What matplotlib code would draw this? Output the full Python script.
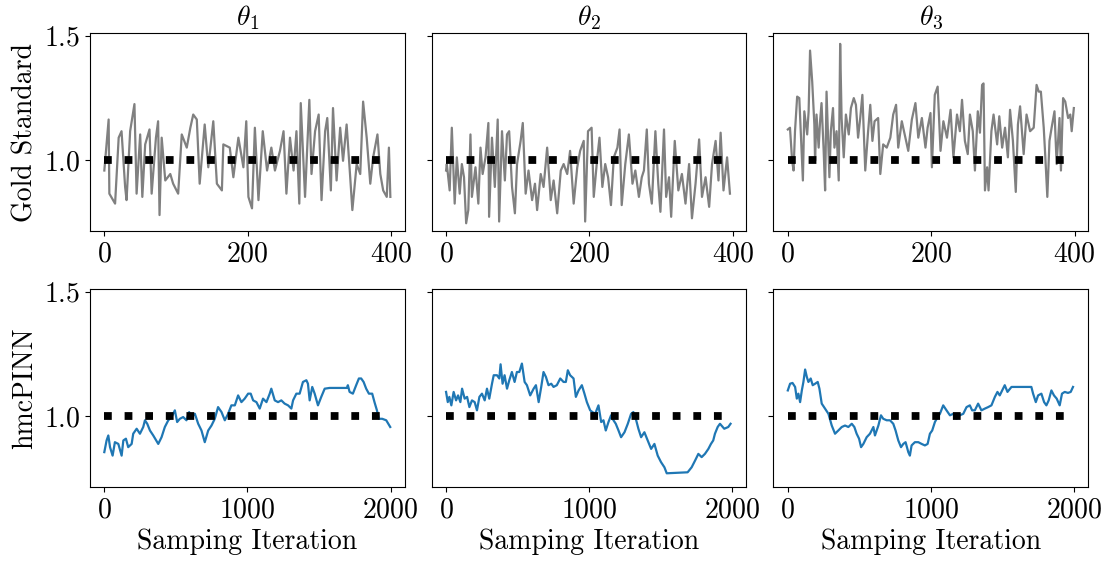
import matplotlib
matplotlib.use("Agg")
import matplotlib.pyplot as plt
from matplotlib.ticker import MultipleLocator

plt.rcParams.update({
    'font.family': 'serif',
    'font.serif': ['cmr10'],
    'mathtext.fontset': 'cm',
    'axes.unicode_minus': False,
    'axes.formatter.use_mathtext': True,
    'font.size': 20,
})

TRUE_VALUE = 1.0
N_GOLD = 400
N_HMC = 2000
param_titles = [r'$\theta_1$', r'$\theta_2$', r'$\theta_3$']
row_labels = ['Gold Standard', 'hmcPINN']
xlabel = 'Samping Iteration'

# gold standard traces (iteration, value)
gold1_it = [0, 6, 7, 15, 20, 24, 29, 31, 36, 42, 45, 50, 53, 57, 63, 66, 72, 75, 77, 80,
            85, 92, 96, 103, 108, 115, 120, 124, 129, 133, 140, 145, 152, 157, 164, 166,
            175, 180, 187, 194, 198, 201, 206, 210, 215, 221, 227, 233, 238, 245, 250,
            254, 259, 264, 268, 272, 274, 280, 286, 289, 294, 299, 303, 308, 311, 316,
            319, 324, 329, 333, 338, 343, 346, 352, 357, 361, 366, 371, 375, 381, 385,
            389, 394, 397, 399]
gold1_val = [0.958, 1.163, 0.865, 0.825, 1.090, 1.116, 0.892, 0.839, 1.116, 1.225, 0.865,
             1.103, 0.852, 1.063, 1.123, 0.865, 1.090, 1.156, 0.779, 1.090, 0.918, 0.944,
             0.905, 0.865, 1.103, 1.050, 1.130, 1.183, 1.163, 0.905, 1.143, 0.971, 1.156,
             0.905, 0.878, 1.063, 1.050, 0.931, 1.090, 0.971, 1.156, 0.852, 0.806, 1.130,
             0.839, 1.116, 0.958, 1.050, 0.958, 1.037, 1.116, 0.865, 1.090, 0.958, 1.116,
             0.825, 1.229, 0.852, 1.242, 0.944, 1.116, 1.183, 0.839, 1.116, 1.169, 0.878,
             1.209, 0.918, 1.130, 0.997, 1.143, 0.931, 0.799, 0.984, 0.944, 1.235, 1.090,
             0.905, 1.011, 1.103, 0.944, 0.878, 0.852, 1.050, 0.852]

gold2_it = [0, 1, 5, 8, 12, 15, 19, 22, 25, 28, 31, 34, 36, 41, 45, 48, 51, 55, 59, 60,
            64, 68, 72, 74, 78, 82, 85, 88, 92, 96, 99, 104, 107, 111, 115, 120, 124, 127,
            132, 136, 141, 146, 150, 155, 160, 164, 169, 173, 178, 183, 187, 192, 194,
            198, 203, 206, 211, 214, 218, 222, 226, 230, 234, 239, 242, 245, 250, 255,
            260, 264, 269, 273, 276, 280, 283, 287, 292, 296, 299, 304, 307, 311, 314,
            319, 324, 329, 334, 339, 343, 348, 353, 357, 362, 367, 371, 376, 380, 383,
            387, 392, 396]
gold2_val = [0.958, 0.984, 0.878, 1.130, 0.825, 1.011, 0.865, 0.984, 0.931, 0.746, 0.799,
             1.103, 0.852, 0.971, 0.825, 1.050, 0.944, 1.011, 1.149, 0.772, 1.090, 0.892,
             1.163, 0.753, 1.116, 0.918, 1.103, 1.116, 0.892, 0.786, 0.984, 1.077, 1.149,
             0.865, 0.958, 0.839, 0.905, 0.799, 0.944, 0.892, 1.050, 0.839, 0.918, 0.786,
             0.958, 0.984, 0.944, 1.037, 0.825, 0.971, 1.037, 1.077, 0.753, 1.116, 1.130,
             0.852, 1.011, 1.090, 0.892, 0.984, 0.931, 0.819, 1.011, 1.050, 1.123, 0.819,
             0.984, 1.103, 0.905, 0.958, 0.852, 0.931, 0.958, 1.123, 0.905, 0.825, 1.116,
             0.905, 0.792, 1.123, 0.852, 0.931, 0.772, 1.077, 0.878, 0.944, 0.825, 0.984,
             0.766, 0.905, 1.083, 0.852, 0.931, 0.812, 0.984, 1.077, 0.918, 1.110, 0.878,
             1.011, 0.865]

gold3_it = [0, 3, 6, 8, 10, 13, 16, 18, 21, 23, 27, 29, 31, 34, 37, 38, 40, 43, 45, 47,
            50, 52, 54, 58, 60, 63, 65, 68, 71, 73, 75, 78, 81, 85, 88, 92, 95, 98, 101,
            104, 108, 112, 115, 118, 121, 126, 129, 133, 138, 143, 147, 151, 154, 159,
            164, 168, 173, 178, 182, 187, 192, 195, 199, 201, 205, 209, 213, 217, 222,
            227, 231, 236, 240, 243, 247, 251, 254, 258, 261, 265, 268, 271, 273, 275,
            278, 280, 284, 287, 292, 295, 299, 303, 307, 310, 314, 318, 321, 324, 329,
            333, 338, 343, 347, 350, 353, 357, 359, 362, 365, 368, 372, 375, 379, 381,
            384, 387, 391, 394, 396, 399]
gold3_val = [1.123, 1.130, 0.997, 0.958, 1.116, 1.255, 1.249, 1.116, 0.918, 1.196, 1.103,
             1.196, 1.440, 1.315, 1.143, 0.997, 1.183, 1.050, 1.156, 1.229, 1.037, 0.878,
             1.275, 0.931, 1.116, 1.209, 1.050, 1.116, 0.918, 1.467, 1.169, 1.011, 1.183,
             1.103, 1.209, 1.249, 1.222, 1.090, 1.169, 1.262, 0.958, 1.116, 1.222, 1.077,
             1.156, 1.169, 0.944, 1.063, 1.050, 1.090, 1.183, 1.222, 1.050, 1.156, 1.090,
             1.037, 1.163, 1.229, 1.090, 1.169, 1.050, 1.130, 1.189, 0.971, 1.262, 1.295,
             1.037, 1.156, 1.090, 1.202, 1.011, 1.183, 1.116, 1.242, 1.077, 1.024, 1.183,
             1.116, 0.958, 1.196, 1.110, 1.302, 1.308, 0.878, 0.971, 0.878, 1.116, 1.183,
             1.063, 1.176, 1.050, 1.130, 1.011, 1.202, 1.077, 0.872, 1.143, 1.216, 1.024,
             1.183, 1.116, 1.130, 1.302, 1.275, 1.275, 1.130, 1.024, 0.852, 1.077, 1.130,
             1.196, 0.984, 1.169, 0.958, 1.249, 1.235, 1.169, 1.183, 1.116, 1.209]

# hmcPINN traces (iteration, value)
hmc1_it = [0, 16, 28, 40, 58, 74, 98, 121, 133, 151, 167, 191, 202, 226, 249, 272, 284,
           300, 319, 342, 377, 400, 423, 447, 470, 493, 509, 528, 551, 574, 593, 609, 633,
           656, 679, 702, 726, 749, 772, 795, 819, 842, 865, 888, 912, 935, 958, 981, 1005,
           1023, 1040, 1063, 1086, 1109, 1133, 1156, 1167, 1191, 1214, 1237, 1260, 1284,
           1307, 1319, 1342, 1365, 1388, 1412, 1423, 1435, 1453, 1470, 1493, 1516, 1540,
           1574, 1695, 1702, 1714, 1737, 1760, 1779, 1795, 1812, 1830, 1849, 1872, 1888,
           1905, 1919, 1942, 1970, 1998]
hmc1_val = [0.855, 0.902, 0.922, 0.875, 0.841, 0.895, 0.888, 0.841, 0.902, 0.909, 0.875,
            0.888, 0.929, 0.949, 0.929, 0.956, 0.983, 0.969, 0.942, 0.922, 0.888, 0.915,
            0.956, 0.983, 0.996, 1.023, 0.976, 0.989, 0.996, 0.983, 1.016, 0.996, 1.009,
            0.969, 0.942, 0.895, 0.942, 0.962, 0.989, 1.036, 1.016, 0.983, 1.009, 1.043,
            1.043, 1.083, 1.056, 1.070, 1.090, 1.090, 1.063, 1.056, 1.030, 1.070, 1.056,
            1.090, 1.110, 1.063, 1.056, 1.063, 1.050, 1.043, 1.030, 1.063, 1.090, 1.090,
            1.137, 1.144, 1.130, 1.063, 1.117, 1.090, 1.043, 1.077, 1.110, 1.113, 1.113,
            1.124, 1.097, 1.090, 1.124, 1.151, 1.151, 1.137, 1.110, 1.090, 1.090, 1.056,
            1.023, 0.989, 0.989, 0.983, 0.956]

hmc2_it = [0, 12, 23, 37, 53, 70, 84, 100, 112, 130, 147, 163, 181, 200, 216, 233, 251,
           270, 286, 302, 321, 333, 356, 372, 381, 395, 409, 426, 442, 460, 479, 495, 512,
           530, 549, 565, 588, 612, 628, 647, 665, 681, 698, 716, 735, 751, 774, 798, 821,
           837, 851, 867, 891, 907, 926, 949, 967, 984, 1007, 1023, 1042, 1065, 1084, 1100,
           1116, 1135, 1153, 1170, 1186, 1205, 1223, 1247, 1270, 1293, 1309, 1326, 1344,
           1363, 1386, 1409, 1433, 1456, 1479, 1502, 1526, 1542, 1688, 1716, 1740, 1763,
           1786, 1809, 1833, 1851, 1867, 1879, 1898, 1914, 1944, 1972, 1988]
hmc2_val = [1.097, 1.056, 1.077, 1.043, 1.097, 1.063, 1.083, 1.056, 1.110, 1.070, 1.077,
            1.036, 1.063, 1.056, 1.023, 1.077, 1.090, 1.063, 1.110, 1.070, 1.130, 1.164,
            1.164, 1.151, 1.208, 1.130, 1.164, 1.110, 1.144, 1.177, 1.137, 1.177, 1.177,
            1.211, 1.137, 1.124, 1.083, 1.110, 1.124, 1.056, 1.117, 1.177, 1.157, 1.124,
            1.130, 1.117, 1.124, 1.151, 1.137, 1.137, 1.184, 1.164, 1.151, 1.077, 1.103,
            1.124, 1.090, 1.056, 1.023, 1.016, 1.009, 1.043, 0.976, 0.983, 0.942, 0.976,
            1.003, 0.983, 0.969, 0.942, 0.915, 0.935, 0.969, 1.009, 1.016, 0.989, 0.949,
            0.915, 0.935, 0.902, 0.868, 0.888, 0.841, 0.815, 0.794, 0.770, 0.774, 0.794,
            0.821, 0.848, 0.835, 0.848, 0.868, 0.888, 0.902, 0.929, 0.956, 0.969, 0.949,
            0.956, 0.969]

hmc3_it = [0, 16, 33, 51, 63, 74, 86, 98, 109, 121, 133, 144, 160, 174, 191, 209, 221,
           237, 260, 284, 307, 330, 353, 377, 400, 423, 447, 465, 481, 498, 512, 528, 551,
           574, 598, 609, 633, 651, 667, 691, 714, 737, 753, 772, 791, 807, 823, 842, 853,
           865, 888, 912, 935, 958, 977, 993, 1009, 1028, 1047, 1063, 1086, 1109, 1133,
           1156, 1179, 1202, 1226, 1249, 1272, 1288, 1307, 1330, 1353, 1377, 1400, 1423,
           1447, 1465, 1481, 1498, 1516, 1535, 1563, 1702, 1714, 1733, 1749, 1772, 1791,
           1807, 1823, 1842, 1860, 1879, 1900, 1916, 1935, 1958, 1977, 1993]
hmc3_val = [1.103, 1.130, 1.133, 1.117, 1.070, 1.090, 1.056, 1.103, 1.137, 1.187, 1.157,
            1.137, 1.151, 1.124, 1.130, 1.137, 1.110, 1.050, 1.030, 1.009, 0.962, 0.929,
            0.942, 0.956, 0.962, 0.956, 0.969, 0.956, 0.929, 0.909, 0.875, 0.888, 0.915,
            0.929, 0.956, 0.922, 0.962, 1.003, 0.989, 0.983, 0.983, 0.969, 0.942, 0.902,
            0.875, 0.888, 0.895, 0.855, 0.841, 0.882, 0.895, 0.895, 0.888, 0.882, 0.888,
            0.929, 0.942, 0.976, 0.996, 1.009, 1.043, 1.023, 1.003, 1.009, 0.989, 1.003,
            1.009, 1.036, 1.043, 1.023, 1.023, 1.050, 1.023, 1.030, 1.036, 1.043, 1.077,
            1.097, 1.083, 1.103, 1.124, 1.097, 1.117, 1.117, 1.090, 1.056, 1.083, 1.090,
            1.056, 1.043, 1.063, 1.103, 1.083, 1.070, 1.043, 1.090, 1.097, 1.093, 1.097,
            1.117]

gold = [(gold1_it, gold1_val), (gold2_it, gold2_val), (gold3_it, gold3_val)]
hmc = [(hmc1_it, hmc1_val), (hmc2_it, hmc2_val), (hmc3_it, hmc3_val)]

fig, axes = plt.subplots(2, 3, figsize=(11.07, 5.62), dpi=100, sharey=True)
fig.subplots_adjust(left=0.0813, right=0.983, top=0.941, bottom=0.1335,
                    wspace=0.086, hspace=0.294)

for j in range(3):
    ax = axes[0, j]
    ax.plot(gold[j][0], gold[j][1], color='gray', lw=1.6)
    ax.plot([0, N_GOLD - 1], [TRUE_VALUE, TRUE_VALUE], 'k:', lw=5.6)
    ax.set_title(param_titles[j], fontsize=20)
    ax.set_xlim(-20, 419)

    ax = axes[1, j]
    ax.plot(hmc[j][0], hmc[j][1], color='tab:blue', lw=1.6)
    ax.plot([0, N_HMC - 1], [TRUE_VALUE, TRUE_VALUE], 'k:', lw=5.6)
    ax.set_xlabel(xlabel)
    ax.set_xlim(-100, 2099)

axes[0, 0].set_ylim(0.715, 1.51)
axes[0, 0].yaxis.set_major_locator(MultipleLocator(0.5))
axes[0, 0].set_ylabel(row_labels[0])
axes[1, 0].set_ylabel(row_labels[1])

fig.savefig('out.png', dpi=100)
